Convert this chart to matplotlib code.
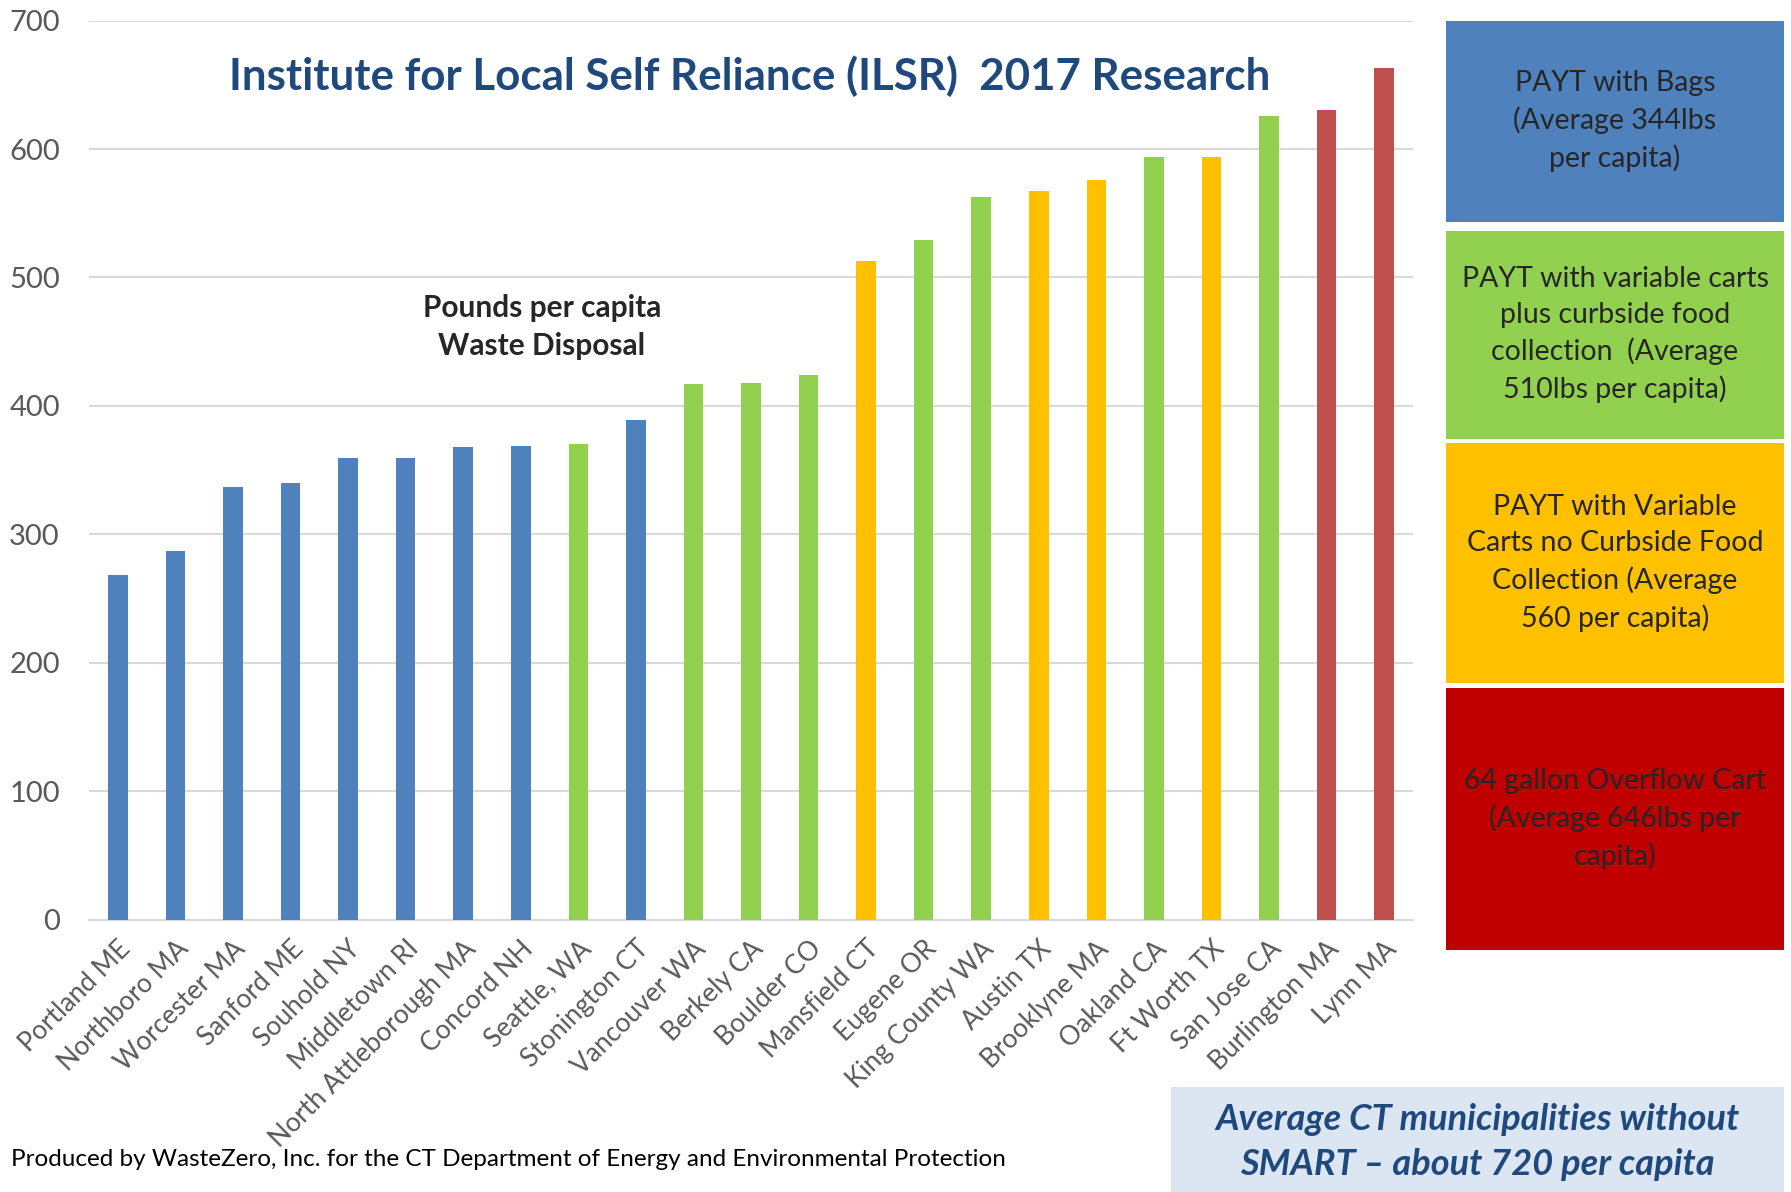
import matplotlib.pyplot as plt
from matplotlib.patches import Rectangle

plt.rcParams['font.family'] = ['Lato', 'DejaVu Sans']

# data
cities = ["Portland ME", "Northboro MA", "Worcester MA", "Sanford ME", "Souhold NY",
          "Middletown RI", "North Attleborough MA", "Concord NH", "Seattle, WA",
          "Stonington CT", "Vancouver WA", "Berkely CA", "Boulder CO", "Mansfield CT",
          "Eugene OR", "King County WA", "Austin TX", "Brooklyne MA", "Oakland CA",
          "Ft Worth TX", "San Jose CA", "Burlington MA", "Lynn MA"]
pounds = [268, 287, 337, 340, 359, 359, 368, 369, 370, 389, 417, 418, 424, 513,
          529, 563, 567, 576, 594, 594, 626, 630, 663]
# program type for each city
program = ["bags", "bags", "bags", "bags", "bags", "bags", "bags", "bags", "food",
           "bags", "food", "food", "food", "nofood", "food", "food", "nofood", "nofood",
           "food", "nofood", "food", "overflow", "overflow"]

bar_colors = {"bags": "#4F81BD", "food": "#92D050", "nofood": "#FFC000", "overflow": "#C0504D"}

legend_texts = [
    "PAYT with Bags\n(Average 344lbs\nper capita)",
    "PAYT with variable carts\nplus curbside food\ncollection  (Average\n510lbs per capita)",
    "PAYT with Variable\nCarts no Curbside Food\nCollection (Average\n560 per capita)",
    "64 gallon Overflow Cart\n(Average 646lbs per\ncapita)",
]
legend_colors = ["#4F81BD", "#92D050", "#FFC000", "#C00000"]

W, H = 1791, 1192
fig = plt.figure(figsize=(W / 100, H / 100), dpi=100)
ax = fig.add_axes([89 / W, 1 - 919.5 / H, (1413 - 89) / W, (919.5 - 20.6) / H])

x = range(len(cities))
ax.bar(x, pounds, width=0.34, color=[bar_colors[p] for p in program], zorder=3)
ax.set_xlim(-0.5, len(cities) - 0.5)
ax.set_ylim(0, 700)
ax.set_yticks(range(0, 701, 100))
ax.yaxis.grid(True, color="#D9D9D9", linewidth=1.5, zorder=0)
for s in ["top", "right", "left"]:
    ax.spines[s].set_visible(False)
ax.spines["bottom"].set_color("#D9D9D9")
ax.spines["bottom"].set_linewidth(1.5)
ax.tick_params(axis="x", length=0, colors="#595959", labelsize=19, pad=12)
ax.tick_params(axis="y", length=0, colors="#595959", labelsize=21, pad=21)
ax.set_xticks(list(x))
ax.set_xticklabels(cities, rotation=45, ha="right", rotation_mode="anchor")

ax.text(0.499, 0.938, "Institute for Local Self Reliance (ILSR)  2017 Research",
        transform=ax.transAxes, ha="center", va="center", fontsize=31.6,
        fontweight="bold", color="#1F497D")
ax.text(0.342, 0.659, "Pounds per capita\nWaste Disposal", transform=ax.transAxes,
        ha="center", va="center", fontsize=21.5, fontweight="bold", color="#262626",
        linespacing=1.46)

# legend boxes on the right
boxes = [(20.6, 221.6), (230.7, 438.6), (443, 683), (687.6, 950)]
for (y0, y1), txt, col in zip(boxes, legend_texts, legend_colors):
    fig.patches.append(Rectangle((1446 / W, 1 - y1 / H), (1784 - 1446) / W, (y1 - y0) / H,
                                 transform=fig.transFigure, facecolor=col, edgecolor="none"))
    fig.text((1446 + 1784) / 2 / W, 1 - (y0 + y1) / 2 / H, txt, ha="center", va="center",
             fontsize=20.5, color="#262626", linespacing=1.45)

# bottom note box
fig.patches.append(Rectangle((1171 / W, 0), (1784 - 1171) / W, (1192 - 1087) / H,
                             transform=fig.transFigure, facecolor="#DCE6F2", edgecolor="none"))
fig.text((1171 + 1784) / 2 / W, 1 - 1142 / H,
         "Average CT municipalities without\nSMART \u2013 about 720 per capita",
         ha="center", va="center", fontsize=26, fontweight="bold", fontstyle="italic",
         color="#1F497D", linespacing=1.41)

fig.text(11 / W, 1 - 1160 / H,
         "Produced by WasteZero, Inc. for the CT Department of Energy and Environmental Protection",
         ha="left", va="center", fontsize=17.5, color="#000000")

fig.savefig("out.png", dpi=100)
